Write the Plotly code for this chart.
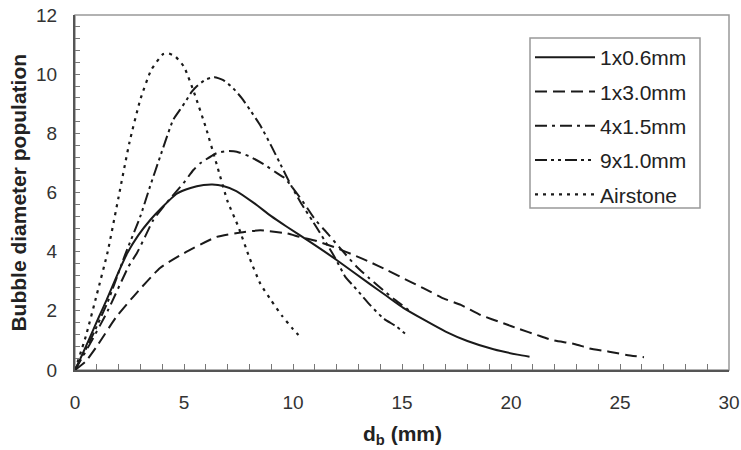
import plotly.graph_objects as go

# ---- data ----
x_06 = [0, 0.35, 0.7, 1.1, 1.45, 1.9, 2.4, 2.9, 3.45, 4.0, 4.65, 5.3, 5.9, 6.3, 6.8, 7.4, 8.2, 9.0, 9.7, 10.8, 12.0, 13.5, 14.3, 15.06, 16.0, 17.0, 18.0, 19.2, 20.3, 20.85]
y_06 = [0, 0.55, 1.13, 1.8, 2.37, 3.15, 3.95, 4.55, 5.07, 5.5, 5.95, 6.15, 6.25, 6.27, 6.22, 6.05, 5.65, 5.2, 4.85, 4.32, 3.72, 2.92, 2.5, 2.1, 1.7, 1.3, 0.98, 0.7, 0.52, 0.45]

x_30 = [0, 0.5, 1.0, 1.9, 2.7, 3.9, 5.0, 6.5, 7.6, 8.5, 9.7, 10.3, 11.0, 11.9, 12.9, 13.5, 14.3, 15.06, 16.0, 16.9, 17.7, 18.6, 19.65, 20.4, 21.2, 21.9, 22.9, 23.6, 24.5, 25.3, 26.1]
y_30 = [0, 0.3, 0.8, 1.8, 2.5, 3.45, 3.95, 4.5, 4.65, 4.72, 4.62, 4.5, 4.38, 4.15, 3.85, 3.66, 3.38, 3.1, 2.76, 2.42, 2.2, 1.86, 1.58, 1.38, 1.18, 1.01, 0.88, 0.73, 0.62, 0.51, 0.43]

x_15 = [0, 0.7, 1.5, 2.45, 2.83, 3.21, 3.59, 4.2, 4.97, 5.43, 5.73, 6.5, 7.0, 7.42, 8.03, 8.72, 9.17, 9.63, 9.94, 10.4, 11.0, 11.6, 12.3, 12.92, 13.5, 14.14, 14.68, 15.3]
y_15 = [0, 0.9, 2.0, 3.49, 3.94, 4.5, 5.07, 5.65, 6.31, 6.76, 6.98, 7.33, 7.4, 7.38, 7.21, 6.93, 6.7, 6.48, 6.2, 5.75, 5.1, 4.6, 4.0, 3.49, 3.1, 2.7, 2.37, 2.03]

x_10 = [0, 0.7, 1.5, 2.3, 3.0, 3.44, 3.9, 4.5, 4.82, 5.12, 5.35, 5.6, 6.0, 6.4, 6.8, 7.26, 7.65, 8.03, 8.49, 9.02, 9.4, 9.94, 10.4, 10.93, 11.9, 12.4, 12.8, 13.2, 13.53, 14.14, 14.76, 15.3]
y_10 = [0, 1.0, 2.3, 3.9, 5.2, 6.2, 7.2, 8.45, 8.8, 9.13, 9.4, 9.6, 9.82, 9.9, 9.8, 9.52, 9.19, 8.79, 8.28, 7.55, 6.99, 6.2, 5.6, 5.0, 3.83, 3.15, 2.82, 2.48, 2.2, 1.75, 1.46, 1.13]

x_air = [0, 0.5, 1.0, 1.5, 2.0, 2.5, 3.0, 3.5, 4.05, 4.3, 4.6, 5.0, 5.5, 6.0, 6.5, 7.0, 7.5, 8.0, 8.5, 9.0, 9.5, 10.0, 10.4]
y_air = [0, 1.15, 2.55, 4.0, 5.85, 7.7, 9.15, 10.15, 10.68, 10.7, 10.6, 10.25, 9.3, 8.2, 6.95, 5.7, 4.83, 3.8, 2.92, 2.35, 1.83, 1.38, 1.07]

names = ["1x0.6mm", "1x3.0mm", "4x1.5mm", "9x1.0mm", "Airstone"]
xs = [x_06, x_30, x_15, x_10, x_air]
ys = [y_06, y_30, y_15, y_10, y_air]
dashes = ["solid", "12px,6px", "12px,5px,3px,5px", "12px,4px,3px,4px,3px,4px", "3px,5px"]
widths = [2, 2, 2, 2, 2.2]

FONT = "Liberation Sans, Arial, sans-serif"

fig = go.Figure()
for n, xv, yv, d, w in zip(names, xs, ys, dashes, widths):
    fig.add_trace(go.Scatter(
        x=xv, y=yv, mode="lines", name=n, legendgroup=n,
        line=dict(color="#1a1a1a", width=w, dash=d, shape="spline", smoothing=0.5),
    ))

# plot area: x 75..729 px, y 15..370 px
def px_x(p):
    return (p - 75) / 654.0

def px_y(p):
    return (370 - p) / 355.0

fig.update_layout(
    width=741, height=450,
    margin=dict(l=75, r=12, t=15, b=80, autoexpand=False),
    paper_bgcolor="white", plot_bgcolor="white",
    font=dict(family=FONT, color="#333"),
    showlegend=True,
    legend=dict(
        x=px_x(530), y=px_y(37), xanchor="left", yanchor="top",
        borderwidth=0, bgcolor="rgba(0,0,0,0)",
        font=dict(size=21, color="#222", family=FONT),
        itemwidth=60, tracegroupgap=4, traceorder="grouped",
    ),
    shapes=[
        dict(type="rect", xref="paper", yref="paper", x0=0, y0=0, x1=1, y1=1,
             line=dict(color="#999", width=1.5), layer="below"),
        dict(type="rect", xref="paper", yref="paper",
             x0=px_x(530), y0=px_y(208), x1=px_x(700), y1=px_y(38),
             line=dict(color="#999", width=1.5), fillcolor="white", layer="below"),
    ],
    annotations=[
        dict(text="<b>d<sub>b</sub> (mm)</b>", xref="paper", yref="paper",
             x=0.5, y=-0.142, xanchor="center", yanchor="top", showarrow=False,
             font=dict(size=21, color="#222", family=FONT)),
        dict(text="<b>Bubble diameter population</b>", xref="paper", yref="paper",
             x=-0.087, y=0.5, xanchor="center", yanchor="middle", textangle=-90,
             showarrow=False, font=dict(size=21, color="#222", family=FONT)),
    ],
)

fig.update_xaxes(
    range=[0, 30], dtick=5, tick0=0, showgrid=False, zeroline=False,
    showline=True, linecolor="#555", linewidth=2,
    ticks="inside", ticklen=6, tickcolor="#777", tickwidth=1,
    tickfont=dict(size=19, color="#333"), ticklabelstandoff=14,
    minor=dict(dtick=1, ticks="inside", ticklen=6, tickcolor="#777", tickwidth=1, showgrid=False),
)
fig.update_yaxes(
    range=[0, 12], dtick=2, tick0=0, showgrid=False, zeroline=False,
    showline=True, linecolor="#555", linewidth=2,
    ticks="inside", ticklen=5, tickcolor="#777", tickwidth=1,
    tickfont=dict(size=19, color="#333"), ticklabelstandoff=12,
    minor=dict(dtick=0.4, ticks="inside", ticklen=5, tickcolor="#777", tickwidth=1, showgrid=False),
)

fig.write_html("out.html")
